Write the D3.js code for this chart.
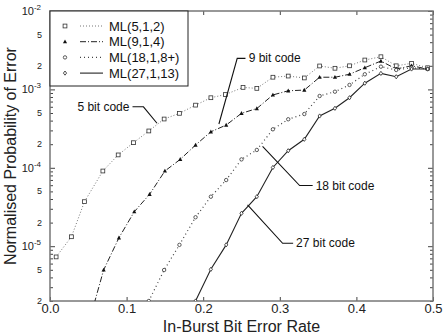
<!DOCTYPE html>
<html>
<head>
<meta charset="utf-8">
<script src="https://cdn.jsdelivr.net/npm/d3@7"></script>
<style>
  html, body { margin: 0; padding: 0; background: #fff; }
  svg { display: block; font-family: "Liberation Sans", Arial, Helvetica, sans-serif; }
</style>
</head>
<body>
<svg id="chart" width="444" height="336"></svg>
<script>
// ---------------- data ----------------
const s1x = [0.008,0.028,0.045,0.069,0.089,0.109,0.129,0.149,0.169,0.19,0.21,0.229,0.252,0.27,0.291,0.311,0.332,0.352,0.372,0.391,0.411,0.432,0.452,0.472,0.493];
const s1y = [7.3e-6,1.32e-5,3.7e-5,9.1e-5,1.46e-4,2.09e-4,2.95e-4,4.19e-4,4.95e-4,6.3e-4,7.83e-4,8.6e-4,1.06e-3,1.03e-3,1.43e-3,1.48e-3,1.40e-3,1.99e-3,1.86e-3,2.0e-3,2.37e-3,2.61e-3,2.0e-3,2.15e-3,1.89e-3];

const s2x = [0.05,0.07,0.09,0.11,0.13,0.15,0.17,0.19,0.21,0.23,0.25,0.27,0.291,0.311,0.332,0.352,0.372,0.391,0.411,0.432,0.452,0.472,0.493];
const s2y = [1.0e-6,4.97e-6,1.28e-5,2.75e-5,4.59e-5,9.1e-5,1.28e-4,1.95e-4,2.88e-4,3.51e-4,4.95e-4,5.7e-4,8.5e-4,9.6e-4,9.8e-4,1.43e-3,1.43e-3,1.56e-3,1.89e-3,2.30e-3,1.82e-3,2.0e-3,1.82e-3];

const s3x = [0.129,0.149,0.169,0.19,0.21,0.23,0.25,0.27,0.291,0.311,0.332,0.352,0.372,0.391,0.411,0.432,0.452,0.472,0.493];
const s3y = [2.0e-6,4.97e-6,1.04e-5,2.34e-5,4.28e-5,6.98e-5,1.28e-4,1.69e-4,3.10e-4,4.16e-4,4.85e-4,8.24e-4,9.35e-4,1.14e-3,1.56e-3,1.95e-3,1.77e-3,1.89e-3,1.82e-3];

const s4x = [0.19,0.21,0.23,0.25,0.27,0.291,0.311,0.332,0.352,0.372,0.391,0.411,0.432,0.452,0.472,0.493];
const s4y = [2.0e-6,5.07e-6,1.04e-5,2.63e-5,4.28e-5,1.01e-4,1.65e-4,2.31e-4,4.58e-4,5.74e-4,7.83e-4,1.20e-3,1.60e-3,1.45e-3,1.82e-3,1.82e-3];

const seriesNames = ["ML(5,1,2)", "ML(9,1,4)", "ML(18,1,8+)", "ML(27,1,13)"];
const xTicks = [0, 0.1, 0.2, 0.3, 0.4, 0.5];
const yDecades = [1e-2, 1e-3, 1e-4, 1e-5];
const yDecadeExp = ["-2", "-3", "-4", "-5"];
const yMinorLabelled = [5e-3, 2e-3, 5e-4, 2e-4, 5e-5, 2e-5, 5e-6, 2e-6];
const yMinorText = ["5", "2", "5", "2", "5", "2", "5", "2"];

// annotations: label, text anchor point [x, p], leader path points
const annLabels = ["5 bit code", "9 bit code", "18 bit code", "27 bit code"];
const annText = [[0.105, 6.0e-4, "end"], [0.258, 2.49e-3, "start"], [0.3455, 5.94e-5, "start"], [0.32, 1.09e-5, "start"]];
const annPaths = [
  [[0.1077, 6.0e-4], [0.122, 6.0e-4], [0.1397, 3.7e-4]],
  [[0.2205, 3.62e-4], [0.2444, 2.49e-3], [0.2552, 2.49e-3]],
  [[0.2775, 1.87e-4], [0.3259, 5.94e-5], [0.3429, 5.94e-5]],
  [[0.2579, 3.36e-5], [0.3037, 1.09e-5], [0.3174, 1.09e-5]]
];

// ---------------- layout ----------------
const L = 50, R = 433, T = 11, B = 301;
const svg = d3.select("#chart");
const x = d3.scaleLinear().domain([0, 0.5]).range([L, R]);
const y = d3.scaleLog().domain([2e-6, 1e-2]).range([B, T]);

svg.append("defs").append("clipPath").attr("id", "clip")
  .append("rect").attr("x", L).attr("y", T).attr("width", R - L).attr("height", B - T);

const gxB = svg.append("g").attr("transform", `translate(0,${B})`)
  .call(d3.axisBottom(x).tickValues(xTicks).tickFormat(d3.format(".1f")).tickSizeInner(-4).tickSizeOuter(0).tickPadding(3));
const gxT = svg.append("g").attr("transform", `translate(0,${T})`)
  .call(d3.axisTop(x).tickValues(xTicks).tickFormat("").tickSizeInner(-4).tickSizeOuter(0));

const minorVals = [];
[1e-6, 1e-5, 1e-4, 1e-3].forEach(d => { for (let k = 2; k <= 9; k++) { const v = d * k; if (v >= 2e-6 && v < 1e-2) minorVals.push(v); } });

const gyL = svg.append("g").attr("transform", `translate(${L},0)`)
  .call(d3.axisLeft(y).tickValues(yDecades).tickFormat("").tickSizeInner(-5).tickSizeOuter(0));
const gyLm = svg.append("g").attr("transform", `translate(${L},0)`)
  .call(d3.axisLeft(y).tickValues(minorVals).tickFormat("").tickSizeInner(-3).tickSizeOuter(0));
const gyR = svg.append("g").attr("transform", `translate(${R},0)`)
  .call(d3.axisRight(y).tickValues(yDecades).tickFormat("").tickSizeInner(-5).tickSizeOuter(0));
const gyRm = svg.append("g").attr("transform", `translate(${R},0)`)
  .call(d3.axisRight(y).tickValues(minorVals).tickFormat("").tickSizeInner(-3).tickSizeOuter(0));

[gxB, gxT, gyL, gyLm, gyR, gyRm].forEach(g => {
  g.select(".domain").remove();
  g.selectAll("line").attr("stroke", "#444").attr("stroke-width", 1);
});
gxB.selectAll("text").attr("font-size", 13).attr("fill", "#222")
  .attr("font-family", "Liberation Sans, Arial, sans-serif");

// y labels
yDecades.forEach((d, i) => {
  const t = svg.append("text").attr("x", 41).attr("y", y(d) + 4)
    .attr("text-anchor", "end").attr("fill", "#222");
  t.append("tspan").attr("font-size", 11).text("10");
  t.append("tspan").attr("font-size", 8).attr("dy", -5).text(yDecadeExp[i]);
});
yMinorLabelled.forEach((d, i) => {
  svg.append("text").attr("x", 42).attr("y", y(d) + 3)
    .attr("text-anchor", "end").attr("font-size", 9).attr("fill", "#222").text(yMinorText[i]);
});

// frame
svg.append("rect").attr("x", L).attr("y", T).attr("width", R - L).attr("height", B - T)
  .attr("fill", "none").attr("stroke", "#777").attr("stroke-width", 1.5);

// axis titles
svg.append("text").attr("x", (L + R) / 2).attr("y", 332).attr("text-anchor", "middle")
  .attr("font-size", 16).attr("fill", "#222").text("In-Burst Bit Error Rate");
svg.append("text").attr("transform", `translate(16,${(T + B) / 2}) rotate(-90)`)
  .attr("text-anchor", "middle").attr("font-size", 16).attr("fill", "#222")
  .text("Normalised Probability of Error");

// series
const styles = [
  { color: "#777", dash: "1,2", width: 1 },
  { color: "#222", dash: "6,2,1,2", width: 1 },
  { color: "#444", dash: "1,3", width: 1.2 },
  { color: "#222", dash: null, width: 1.1 }
];
const allSeries = [[s1x, s1y], [s2x, s2y], [s3x, s3y], [s4x, s4y]];
const line = d3.line().x(d => x(d[0])).y(d => y(d[1]));
const plot = svg.append("g").attr("clip-path", "url(#clip)");

function marker(g, i, cx, cy) {
  if (i === 0) {
    g.append("rect").attr("x", cx - 1.9).attr("y", cy - 1.9).attr("width", 3.8).attr("height", 3.8)
      .attr("fill", "#fff").attr("stroke", "#333").attr("stroke-width", 0.8);
  } else if (i === 1) {
    g.append("path").attr("d", `M${cx},${cy - 2.3}L${cx + 2.1},${cy + 1.6}L${cx - 2.1},${cy + 1.6}Z`)
      .attr("fill", "#111");
  } else if (i === 2) {
    g.append("circle").attr("cx", cx).attr("cy", cy).attr("r", 1.7)
      .attr("fill", "#fff").attr("stroke", "#333").attr("stroke-width", 0.8);
  } else {
    g.append("path").attr("d", `M${cx},${cy - 2.1}L${cx + 1.6},${cy}L${cx},${cy + 2.1}L${cx - 1.6},${cy}Z`)
      .attr("fill", "#fff").attr("stroke", "#222").attr("stroke-width", 0.8);
  }
}

allSeries.forEach(([xs, ys], i) => {
  const pts = xs.map((v, k) => [v, ys[k]]);
  const p = plot.append("path").datum(pts).attr("d", line)
    .attr("fill", "none").attr("stroke", styles[i].color).attr("stroke-width", styles[i].width);
  if (styles[i].dash) p.attr("stroke-dasharray", styles[i].dash);
  const mg = plot.append("g");
  pts.forEach(d => { if (d[1] >= 2e-6) marker(mg, i, x(d[0]), y(d[1])); });
});

// annotations
annPaths.forEach((pts, i) => {
  svg.append("path").datum(pts).attr("d", line).attr("fill", "none")
    .attr("stroke", "#111").attr("stroke-width", 1.1);
  const [tx, tp, anchor] = annText[i];
  svg.append("text").attr("x", x(tx) + (anchor === "end" ? -1 : 1)).attr("y", y(tp) + 4)
    .attr("text-anchor", anchor).attr("font-size", 12).attr("fill", "#111").text(annLabels[i]);
});

// legend
const lg = svg.append("g");
lg.append("rect").attr("x", L).attr("y", T).attr("width", 138).attr("height", 75)
  .attr("fill", "#fff").attr("stroke", "#222").attr("stroke-width", 1);
seriesNames.forEach((name, i) => {
  const yy = 26 + i * 15.7;
  marker(lg, i, 65, yy);
  const ln = lg.append("line").attr("x1", 80).attr("x2", 103).attr("y1", yy).attr("y2", yy)
    .attr("stroke", styles[i].color).attr("stroke-width", styles[i].width);
  if (styles[i].dash) ln.attr("stroke-dasharray", styles[i].dash);
  lg.append("text").attr("x", 109).attr("y", yy + 4.5).attr("font-size", 13).attr("fill", "#111").text(name);
});
</script>
</body>
</html>
